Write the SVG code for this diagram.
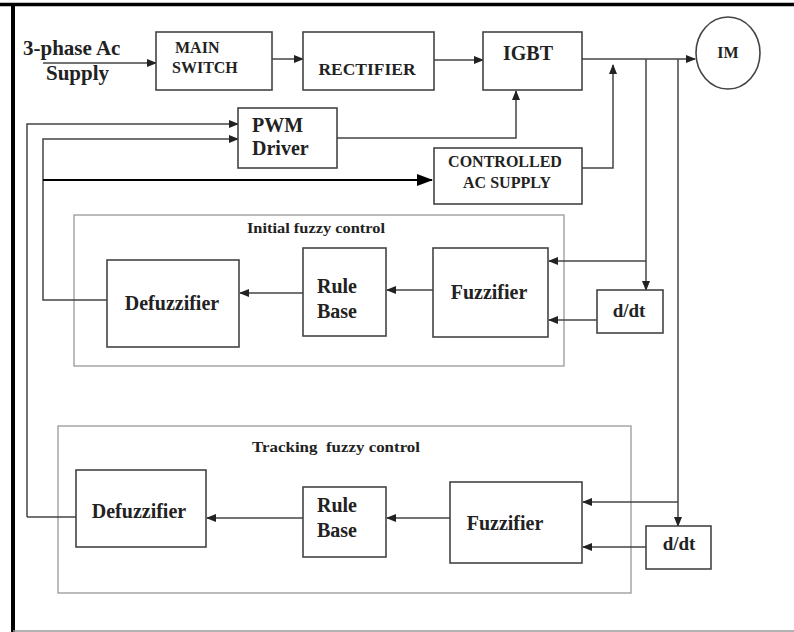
<svg xmlns="http://www.w3.org/2000/svg" width="794" height="632" viewBox="0 0 794 632">
<defs>
<marker id="ah" markerWidth="10" markerHeight="8" refX="9" refY="4" orient="auto" markerUnits="userSpaceOnUse">
<path d="M0,0 L10,4 L0,8 Z" fill="#222"/>
</marker>
<marker id="ahb" markerWidth="16" markerHeight="12" refX="15" refY="6" orient="auto" markerUnits="userSpaceOnUse">
<path d="M0,0 L16,6 L0,12 Z" fill="#000"/>
</marker>
</defs>
<style>
.box{fill:#fff;stroke:#444;stroke-width:1.6}
.grp{fill:none;stroke:#999;stroke-width:1.3}
.ln{fill:none;stroke:#444;stroke-width:1.5}
.ar{fill:none;stroke:#444;stroke-width:1.5;marker-end:url(#ah)}
.t{fill:#222}
.s{font-size:16px}
.m{font-size:19px}
.l{font-size:20px}
.x{font-size:21px}
.g{font-size:14px}
</style>
<rect width="794" height="632" fill="#fff"/>
<g id="frame">
<line x1="0" y1="4.5" x2="794" y2="4.5" stroke="#000" stroke-width="3.5"/>
<line x1="13" y1="3" x2="13" y2="632" stroke="#000" stroke-width="4"/>
<line x1="13" y1="631" x2="794" y2="631" stroke="#999" stroke-width="1.5"/>
</g>
<g font-family="'Liberation Serif', 'Times New Roman', serif" font-weight="bold">
<g id="groups">
<g id="initial-group"><rect class="grp" x="74" y="215" width="490" height="151"/><text class="t g" x="247" y="233" textLength="138" lengthAdjust="spacingAndGlyphs">Initial fuzzy control</text></g>
<g id="tracking-group"><rect class="grp" x="58" y="426" width="573" height="167"/><text class="t g" x="252" y="452" xml:space="preserve" textLength="168" lengthAdjust="spacingAndGlyphs">Tracking  fuzzy control</text></g>
</g>
<g id="connectors">
<line class="ar" x1="43" y1="63" x2="156" y2="63"/>
<line class="ar" x1="272" y1="59" x2="303" y2="59"/>
<line class="ar" x1="434" y1="60" x2="483" y2="60"/>
<line class="ar" x1="582" y1="59" x2="695" y2="59"/>
<polyline class="ar" points="337,138 516,138 516,91"/>
<polyline class="ar" points="582,168 613,168 613,65"/>
<polyline class="ar" points="27,517 27,124 238,124"/>
<polyline class="ar" points="107,300 43,300 43,139 238,139"/>
<line x1="43" y1="180" x2="432" y2="180" stroke="#000" stroke-width="2" marker-end="url(#ahb)"/>
<polyline class="ln" points="76,517 27,517"/>
<line class="ar" x1="303" y1="293" x2="240" y2="293"/>
<line class="ar" x1="433" y1="290" x2="387" y2="290"/>
<polyline class="ar" points="646,59 646,290"/>
<line class="ar" x1="646" y1="261" x2="549" y2="261"/>
<line class="ar" x1="597" y1="320" x2="549" y2="320"/>
<line class="ar" x1="303" y1="518" x2="207" y2="518"/>
<line class="ar" x1="450" y1="518" x2="387" y2="518"/>
<polyline class="ar" points="678,59 678,526"/>
<line class="ar" x1="678" y1="502" x2="583" y2="502"/>
<line class="ar" x1="646" y1="547" x2="583" y2="547"/>
</g>
<g id="supply-label"><text class="t x" x="23" y="55">3-phase Ac</text><text class="t x" x="46" y="80">Supply</text></g>
<g id="main-switch"><rect class="box" x="156" y="32" width="116" height="58"/><text class="t s" x="175" y="53">MAIN</text><text class="t s" x="172" y="73">SWITCH</text></g>
<g id="rectifier"><rect class="box" x="303" y="32" width="131" height="58"/><text class="t s" x="367" y="75" text-anchor="middle" textLength="97" lengthAdjust="spacingAndGlyphs">RECTIFIER</text></g>
<g id="igbt"><rect class="box" x="483" y="32" width="99" height="58"/><text class="t l" x="528" y="60" text-anchor="middle">IGBT</text></g>
<g id="im"><ellipse class="box" cx="728" cy="53" rx="32" ry="36"/><text class="t s" x="728" y="58" text-anchor="middle">IM</text></g>
<g id="pwm-driver"><rect class="box" x="238" y="108" width="99" height="60"/><text class="t l" x="252" y="132">PWM</text><text class="t l" x="252" y="155">Driver</text></g>
<g id="controlled-ac"><rect class="box" x="434" y="148" width="148" height="56"/><text class="t s" x="505" y="167" text-anchor="middle">CONTROLLED</text><text class="t s" x="507" y="188" text-anchor="middle">AC SUPPLY</text></g>
<g id="defuzzifier-1"><rect class="box" x="107" y="260" width="132" height="87"/><text class="t l" x="172" y="310" text-anchor="middle">Defuzzifier</text></g>
<g id="rulebase-1"><rect class="box" x="303" y="248" width="83" height="88"/><text class="t l" x="317" y="293">Rule</text><text class="t l" x="317" y="318">Base</text></g>
<g id="fuzzifier-1"><rect class="box" x="433" y="248" width="115" height="89"/><text class="t l" x="489" y="299" text-anchor="middle">Fuzzifier</text></g>
<g id="ddt-1"><rect class="box" x="597" y="290" width="66" height="43"/><text class="t m" x="629" y="317" text-anchor="middle">d/dt</text></g>
<g id="defuzzifier-2"><rect class="box" x="76" y="470" width="130" height="77"/><text class="t l" x="139" y="518" text-anchor="middle">Defuzzifier</text></g>
<g id="rulebase-2"><rect class="box" x="303" y="487" width="83" height="70"/><text class="t l" x="317" y="512">Rule</text><text class="t l" x="317" y="537">Base</text></g>
<g id="fuzzifier-2"><rect class="box" x="450" y="482" width="132" height="81"/><text class="t l" x="505" y="530" text-anchor="middle">Fuzzifier</text></g>
<g id="ddt-2"><rect class="box" x="646" y="526" width="65" height="43"/><text class="t m" x="679" y="550" text-anchor="middle">d/dt</text></g>
</g>
</svg>
